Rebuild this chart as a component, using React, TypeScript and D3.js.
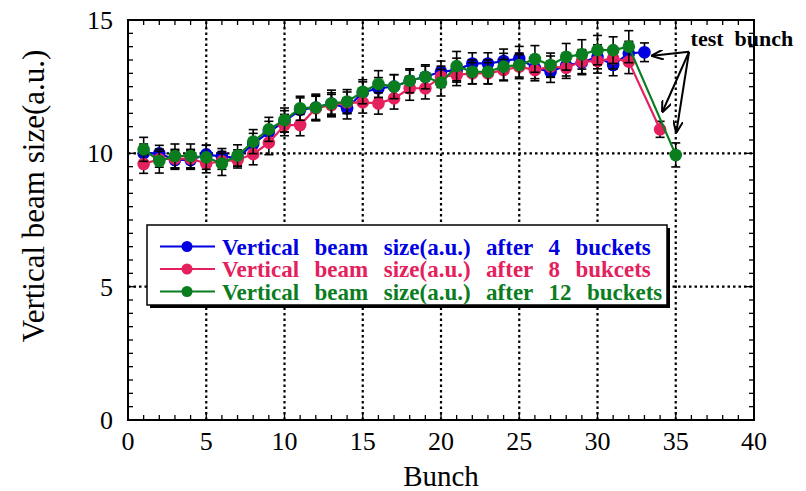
import React from "react";
import * as d3 from "d3";

const blueX = d3.range(1, 34);
const blueY = [10.0, 10.0, 9.75, 9.75, 9.96, 9.88, 9.83, 10.35, 10.8, 11.2, 11.63, 11.72, 11.87, 11.69, 12.28, 12.44, 12.5, 12.72, 12.87, 13.06, 13.12, 13.37, 13.37, 13.46, 13.56, 13.2, 13.06, 13.3, 13.4, 13.62, 13.31, 13.75, 13.79];
const blueErr = [0.35, 0.3, 0.35, 0.35, 0.35, 0.3, 0.3, 0.4, 0.4, 0.4, 0.45, 0.45, 0.4, 0.4, 0.4, 0.4, 0.45, 0.4, 0.4, 0.4, 0.45, 0.4, 0.4, 0.45, 0.45, 0.4, 0.4, 0.4, 0.45, 0.45, 0.4, 0.45, 0.35];

const redX = [...d3.range(1, 33), 34];
const redY = [9.6, 9.78, 9.8, 9.8, 9.62, 9.7, 9.75, 9.97, 10.4, 11.06, 11.06, 11.69, 11.81, 11.9, 11.91, 11.87, 12.06, 12.44, 12.44, 12.87, 12.94, 13.0, 13.0, 13.12, 13.25, 13.12, 13.25, 13.21, 13.44, 13.46, 13.56, 13.44, 10.9];
const redErr = [0.35, 0.3, 0.35, 0.35, 0.35, 0.3, 0.3, 0.4, 0.45, 0.4, 0.4, 0.45, 0.4, 0.4, 0.4, 0.4, 0.4, 0.45, 0.4, 0.4, 0.4, 0.4, 0.4, 0.4, 0.45, 0.4, 0.4, 0.4, 0.45, 0.45, 0.4, 0.45, 0.3];

const greenX = [...d3.range(1, 33), 35];
const greenY = [10.15, 9.71, 9.9, 9.9, 9.85, 9.62, 9.92, 10.44, 10.9, 11.25, 11.69, 11.72, 11.87, 11.94, 12.31, 12.6, 12.5, 12.72, 12.87, 12.65, 13.27, 13.06, 13.06, 13.25, 13.31, 13.54, 13.31, 13.62, 13.71, 13.87, 13.87, 14.0, 9.94];
const greenErr = [0.45, 0.45, 0.45, 0.45, 0.45, 0.45, 0.4, 0.45, 0.45, 0.45, 0.45, 0.5, 0.5, 0.45, 0.45, 0.5, 0.45, 0.45, 0.45, 0.5, 0.55, 0.45, 0.45, 0.5, 0.45, 0.5, 0.45, 0.5, 0.55, 0.55, 0.5, 0.6, 0.45];

const seriesNames = [
  "Vertical  beam  size(a.u.)  after  4  buckets",
  "Vertical  beam  size(a.u.)  after  8  bukcets",
  "Vertical  beam  size(a.u.)  after  12  buckets",
];
const seriesColors = ["#0000e0", "#e4215c", "#0a7d1e"];

const xTicks = [0, 5, 10, 15, 20, 25, 30, 35, 40];
const yTicks = [0, 5, 10, 15];

const annotationText = "test  bunch";
const arrowFrom = { x: 35.85, y: 13.81 };
const arrowTips = [
  { x: 33.5, y: 13.66 },
  { x: 34.15, y: 11.56 },
  { x: 35.04, y: 10.8 },
];

const W = 806, H = 491;
const M = { left: 128, right: 52, top: 20, bottom: 71 };

export default function App() {
  const x = d3.scaleLinear().domain([0, 40]).range([M.left, W - M.right]);
  const y = d3.scaleLinear().domain([0, 15]).range([H - M.bottom, M.top]);
  const series = [
    { xs: blueX, ys: blueY, err: blueErr },
    { xs: redX, ys: redY, err: redErr },
    { xs: greenX, ys: greenY, err: greenErr },
  ];
  const line = d3.line<[number, number]>().x(d => x(d[0])).y(d => y(d[1]));
  const serif = "'Liberation Serif', 'Times New Roman', serif";
  const x0 = x(0), x1 = x(40), y0 = y(0), y1 = y(15);
  const xMinor = d3.range(0, 41, 1);
  const yMinor = d3.range(0, 15.01, 0.5);

  const legX = 147, legY = 225, legW = 520, legH = 80;

  return (
    <svg width={W} height={H} style={{ position: "absolute", left: 0, top: 0, background: "#fff" }}>
      <defs>
        <marker id="arr" viewBox="0 0 12 10" refX="11" refY="5" markerWidth="12" markerHeight="10" markerUnits="userSpaceOnUse" orient="auto">
          <path d="M0,0 L12,5 L0,10" fill="none" stroke="#000" strokeWidth="2" />
        </marker>
      </defs>
      {/* grid */}
      {xTicks.slice(1, -1).map(t => (
        <line key={"gx" + t} x1={x(t)} x2={x(t)} y1={y0} y2={y1} stroke="#000" strokeWidth={2.2} strokeDasharray="2.5,3" />
      ))}
      {[5, 10].map(t => (
        <line key={"gy" + t} x1={x0} x2={x1} y1={y(t)} y2={y(t)} stroke="#000" strokeWidth={2.2} strokeDasharray="2.5,3" />
      ))}
      {/* ticks */}
      {xMinor.map(t => {
        const len = t % 5 === 0 ? 8 : 5;
        return (
          <g key={"tx" + t}>
            <line x1={x(t)} x2={x(t)} y1={y0} y2={y0 - len} stroke="#000" strokeWidth={1.3} />
            <line x1={x(t)} x2={x(t)} y1={y1} y2={y1 + len} stroke="#000" strokeWidth={1.3} />
          </g>
        );
      })}
      {yMinor.map(t => {
        const len = t % 5 === 0 ? 8 : 5;
        return (
          <g key={"ty" + t}>
            <line x1={x0} x2={x0 + len} y1={y(t)} y2={y(t)} stroke="#000" strokeWidth={1.3} />
            <line x1={x1} x2={x1 - len} y1={y(t)} y2={y(t)} stroke="#000" strokeWidth={1.3} />
          </g>
        );
      })}
      <rect x={x0} y={y1} width={x1 - x0} height={y0 - y1} fill="none" stroke="#000" strokeWidth={2} />
      {/* tick labels */}
      {xTicks.map(t => (
        <text key={"lx" + t} x={x(t)} y={y0 + 30} textAnchor="middle" fontFamily={serif} fontSize={26} fill="#000">{t}</text>
      ))}
      {yTicks.map(t => (
        <text key={"ly" + t} x={x0 - 15} y={y(t) + 9} textAnchor="end" fontFamily={serif} fontSize={26} fill="#000">{t}</text>
      ))}
      <text x={x(20)} y={H - 5} textAnchor="middle" fontFamily={serif} fontSize={29} fill="#000">Bunch</text>
      <text transform={`translate(44,196) rotate(-90)`} textAnchor="middle" fontFamily={serif} fontSize={31} fill="#000">Vertical beam size(a.u.)</text>
      {/* series */}
      {series.map((s, i) => (
        <g key={"s" + i}>
          {s.xs.map((xv, j) => {
            const cx = x(xv), lo = y(s.ys[j] - s.err[j]), hi = y(s.ys[j] + s.err[j]);
            return (
              <g key={j} stroke="#000" strokeWidth={1.6}>
                <line x1={cx} x2={cx} y1={lo} y2={hi} />
                <line x1={cx - 4.5} x2={cx + 4.5} y1={lo} y2={lo} />
                <line x1={cx - 4.5} x2={cx + 4.5} y1={hi} y2={hi} />
              </g>
            );
          })}
          <path d={line(s.xs.map((xv, j) => [xv, s.ys[j]] as [number, number])) || ""} fill="none" stroke={seriesColors[i]} strokeWidth={2.2} />
          {s.xs.map((xv, j) => (
            <circle key={"c" + j} cx={x(xv)} cy={y(s.ys[j])} r={6.3} fill={seriesColors[i]} />
          ))}
        </g>
      ))}
      {/* annotation */}
      {arrowTips.map((t, i) => (
        <line key={"a" + i} x1={x(arrowFrom.x)} y1={y(arrowFrom.y)} x2={x(t.x)} y2={y(t.y)} stroke="#000" strokeWidth={2} markerEnd="url(#arr)" />
      ))}
      <text x={x(35.95)} y={y(14.02)} fontFamily={serif} fontSize={22} fontWeight="bold" fill="#000" style={{ whiteSpace: "pre" }}>{annotationText}</text>
      {/* legend */}
      <rect x={legX + 3} y={legY + 3} width={legW} height={legH} fill="#000" />
      <rect x={legX} y={legY} width={legW} height={legH} fill="#fff" stroke="#000" strokeWidth={1.5} />
      {seriesNames.map((n, i) => {
        const ly = legY + 21.5 + i * 22.5;
        return (
          <g key={"lg" + i}>
            <line x1={legX + 13} x2={legX + 68} y1={ly} y2={ly} stroke={seriesColors[i]} strokeWidth={2.2} />
            <circle cx={legX + 40} cy={ly} r={5.5} fill={seriesColors[i]} />
            <text x={legX + 75} y={ly + 8} fontFamily={serif} fontSize={23} fontWeight="bold" fill={seriesColors[i]} wordSpacing={2} style={{ whiteSpace: "pre" }}>{n}</text>
          </g>
        );
      })}
    </svg>
  );
}
